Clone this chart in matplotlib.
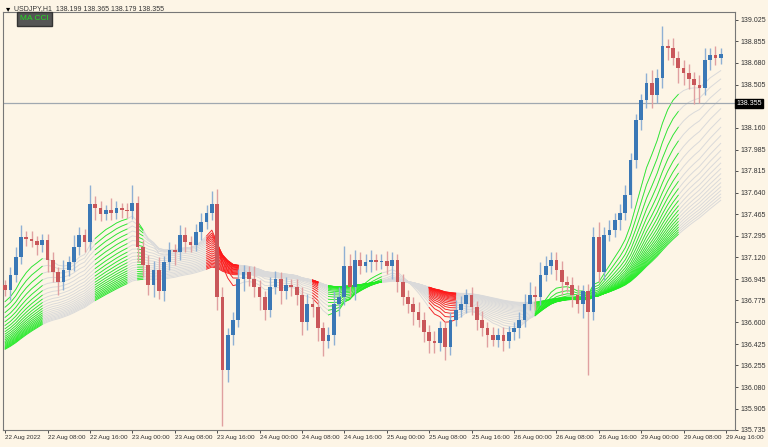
import matplotlib
matplotlib.use("Agg")
import matplotlib.pyplot as plt
import numpy as np
import pandas as pd

plt.rcParams['font.family'] = ['Liberation Sans', 'DejaVu Sans']

# earlier bars (off-screen, only feed the moving averages)
prior_closes = [135.60,135.55,135.62,135.70,135.68,135.75,135.80,135.78,135.85,135.90,
                135.88,135.95,136.00,135.98,136.05,136.10,136.08,136.15,136.20,136.18,
                136.25,136.30,136.28,136.35,136.40,136.45,136.42,136.50,136.55,136.60,
                136.58,136.65,136.70,136.68,136.75,136.80,136.78,136.82,136.85,136.88]
closes = [136.86,136.98,137.12,137.28,137.27,137.25,137.22,137.26,
          137.10,137.00,136.92,137.02,137.08,137.20,137.30,137.24,
          137.55,137.52,137.47,137.50,137.48,137.52,137.50,137.49,
          137.56,137.20,137.06,136.90,137.02,136.85,137.08,137.18,
          137.16,137.30,137.24,137.22,137.32,137.40,137.48,137.55,
          136.80,136.22,136.50,136.62,136.95,137.00,136.95,136.88,
          136.80,136.70,136.88,136.95,136.85,136.90,136.88,136.82,
          136.60,136.75,136.72,136.55,136.45,136.50,136.75,136.80,
          137.05,136.88,137.10,137.05,137.08,137.10,137.08,137.09,
          137.05,137.10,136.92,136.80,136.75,136.68,136.62,136.52,
          136.45,136.43,136.55,136.40,136.62,136.70,136.75,136.82,
          136.72,136.62,136.55,136.50,136.46,136.50,136.45,136.52,
          136.55,136.62,136.75,136.82,136.80,136.98,137.05,137.10,
          137.02,136.92,136.90,136.82,136.75,136.85,136.68,137.28,
          137.00,137.30,137.34,137.42,137.48,137.62,137.90,138.22,
          138.38,138.52,138.42,138.56,138.82,138.80,138.72,138.64,
          138.60,138.55,138.50,138.48,138.70,138.74,138.72,138.75]
first_open = 136.90
wick_up = [0.04,0.06,0.08,0.10,0.05,0.06,0.04,0.05, 0.05,0.06,0.04,0.08,0.05,0.10,0.06,0.05,
           0.15,0.06,0.05,0.04,0.10,0.05,0.04,0.06, 0.14,0.05,0.06,0.08,0.07,0.10,0.05,0.06,
           0.05,0.08,0.06,0.05,0.07,0.08,0.06,0.10, 0.12,0.08,0.05,0.06,0.08,0.06,0.05,0.10,
           0.06,0.05,0.08,0.06,0.05,0.06,0.05,0.07, 0.06,0.08,0.05,0.06,0.05,0.06,0.10,0.08,
           0.16,0.10,0.08,0.06,0.07,0.08,0.05,0.06, 0.08,0.06,0.05,0.07,0.06,0.05,0.08,0.06,
           0.06,0.08,0.06,0.05,0.06,0.08,0.06,0.05, 0.06,0.05,0.07,0.05,0.06,0.05,0.06,0.05,
           0.05,0.06,0.08,0.10,0.07,0.10,0.08,0.06, 0.06,0.07,0.05,0.06,0.08,0.05,0.06,0.08,
           0.12,0.06,0.08,0.06,0.07,0.08,0.06,0.05, 0.05,0.08,0.10,0.07,0.16,0.05,0.08,0.06,
           0.06,0.07,0.06,0.08,0.10,0.06,0.08,0.05]
wick_dn = [0.05,0.08,0.06,0.05,0.06,0.05,0.08,0.06, 0.10,0.08,0.10,0.06,0.05,0.07,0.06,0.08,
           0.06,0.10,0.06,0.05,0.06,0.05,0.06,0.05, 0.06,0.12,0.10,0.08,0.10,0.06,0.08,0.06,
           0.10,0.06,0.08,0.06,0.05,0.06,0.05,0.06, 0.10,0.45,0.10,0.08,0.06,0.10,0.06,0.08,
           0.10,0.08,0.06,0.05,0.10,0.06,0.07,0.08, 0.10,0.06,0.08,0.10,0.12,0.06,0.08,0.10,
           0.06,0.08,0.10,0.06,0.05,0.08,0.06,0.05, 0.06,0.10,0.08,0.06,0.08,0.10,0.06,0.08,
           0.10,0.08,0.06,0.10,0.06,0.05,0.06,0.08, 0.06,0.08,0.06,0.10,0.05,0.06,0.08,0.06,
           0.06,0.08,0.06,0.05,0.10,0.06,0.05,0.06, 0.08,0.10,0.06,0.10,0.08,0.12,0.50,0.06,
           0.08,0.06,0.05,0.06,0.08,0.06,0.10,0.06, 0.08,0.06,0.10,0.06,0.08,0.10,0.06,0.12,
           0.10,0.08,0.15,0.12,0.06,0.08,0.06,0.05]
ma_periods = list(range(10, 72, 3))
green_spans = [(0, 7), (17, 23), (25, 26), (61, 71), (100, 127)]
red_spans = [(38, 44), (58, 59), (80, 85)]
xtick_labels = ["22 Aug 2022","22 Aug 08:00","22 Aug 16:00","23 Aug 00:00","23 Aug 08:00",
                "23 Aug 16:00","24 Aug 00:00","24 Aug 08:00","24 Aug 16:00","25 Aug 00:00",
                "25 Aug 08:00","25 Aug 16:00","26 Aug 00:00","26 Aug 08:00","26 Aug 16:00",
                "29 Aug 00:00","29 Aug 08:00","29 Aug 16:00"]
ytick_vals = [139.025,138.855,138.680,138.505,138.160,137.985,137.815,137.640,137.465,
              137.295,137.120,136.945,136.775,136.600,136.425,136.255,136.080,135.905,135.735]
current_price = 138.355
header = "USDJPY,H1  138.199 138.365 138.179 138.355"

bg = "#fdf5e6"
fig = plt.figure(figsize=(7.68, 4.47), dpi=100, facecolor=bg)
ax = fig.add_axes([3/768, 17/447, 732/768, 418/447], facecolor=bg)

c = np.array(closes)
o = np.concatenate([[first_open], c[:-1]])
hi = np.maximum(o, c) + np.array(wick_up)
lo = np.minimum(o, c) - np.array(wick_dn)
x = np.arange(len(c))
npre = len(prior_closes)
s = pd.Series(prior_closes + closes)

for p in ma_periods:
    ma = s.ewm(span=p, adjust=True).mean().values[npre:]
    ax.plot(x, ma, color="#dadada", lw=0.7, zorder=1)
    for (a, b), col in [(sp, "#22ee22") for sp in green_spans] + [(sp, "#ff1a1a") for sp in red_spans]:
        ax.plot(x[a:b+1], ma[a:b+1], color=col, lw=0.6, zorder=2)

up = c >= o
bull, bear = "#3a78b6", "#c9575a"
ax.vlines(x[up], lo[up], hi[up], color="#8fb0d4", lw=1.0, zorder=3)
ax.vlines(x[~up], lo[~up], hi[~up], color="#e0a0a0", lw=1.0, zorder=3)
ax.bar(x[up], (c-o)[up], bottom=o[up], width=0.7, color=bull, zorder=4)
ax.bar(x[~up], (o-c)[~up], bottom=c[~up], width=0.7, color=bear, zorder=4)

ax.axhline(current_price, color="#a0a8b0", lw=0.9, zorder=2)

ax.set_xlim(-0.4, 137.7)
ax.set_ylim(135.735, 139.089)
ax.yaxis.tick_right()
ax.set_yticks(ytick_vals)
ax.set_yticklabels([f"{v:.3f}" for v in ytick_vals])
ax.set_xticks(np.arange(len(xtick_labels)) * 8)
ax.set_xticklabels(xtick_labels, ha="left")
ax.tick_params(axis="both", labelsize=5, colors="#333333", length=2.5, width=0.6, pad=1.2)
ax.tick_params(axis="x", labelsize=4.6)
for sp in ax.spines.values():
    sp.set_color("#777777"); sp.set_linewidth(0.8)
ax.text(1.002, current_price, f"{current_price:.3f}", transform=ax.get_yaxis_transform(),
        fontsize=5, color="white", va="center", ha="left",
        bbox=dict(boxstyle="square,pad=0.15", fc="black", ec="black"))

fig.text(6/768, 1-9/447, "▾", fontsize=6, va="center", color="black", family="DejaVu Sans")
fig.text(14/768, 1-9/447, header, fontsize=5, va="center", color="#333333")
fig.text(20/768, 1-19/447, "MA CCI", fontsize=6, va="center", color="#22dd22",
         bbox=dict(boxstyle="square,pad=0.4", fc="#555555", ec="#333333"))

fig.savefig("out.png", dpi=100, facecolor=bg)
